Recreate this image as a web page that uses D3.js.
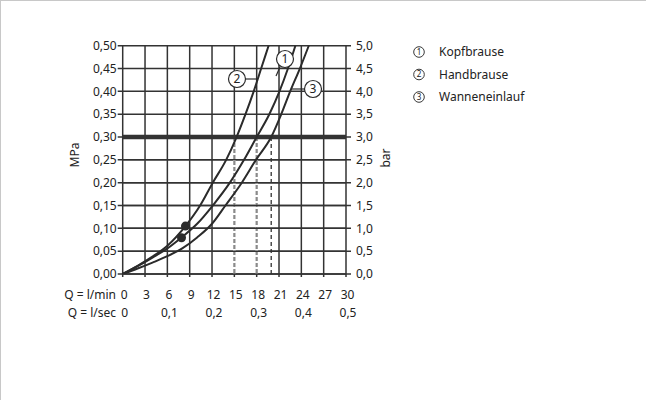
<!DOCTYPE html>
<html>
<head>
<meta charset="utf-8">
<script src="https://cdn.jsdelivr.net/npm/d3@7"></script>
<style>
  html,body{margin:0;padding:0;background:#fff;}
  svg{display:block;}
  text{font-family:"Noto Sans",sans-serif;fill:#222;}
</style>
</head>
<body>
<svg id="chart" width="646" height="400"></svg>
<script>
// ---- data ----
const xTicksLmin = [0,3,6,9,12,15,18,21,24,27,30];
const xTicksLsec = [[0,"0"],[6,"0,1"],[12,"0,2"],[18,"0,3"],[24,"0,4"],[30,"0,5"]];
const yTicksMPa = [0,0.05,0.10,0.15,0.20,0.25,0.30,0.35,0.40,0.45,0.50];
const yTicksBar = [0,0.5,1.0,1.5,2.0,2.5,3.0,3.5,4.0,4.5,5.0];
const seriesNames = ["Kopfbrause","Handbrause","Wanneneinlauf"];
// flow rate in l/min, pressure in MPa
const kopfQ = [0,2,4,6,7.9,10.0,12.1,14.4,16.3,18.0,19.7,21.06,22.2,23.2];
const kopfP = [0,0.017,0.036,0.056,0.080,0.110,0.150,0.200,0.250,0.300,0.350,0.400,0.450,0.500];
const handQ = [0,2,4,6,8.43,10.4,12.1,13.9,15.3,16.5,17.6,18.6,19.6];
const handP = [0,0.018,0.038,0.062,0.105,0.150,0.200,0.250,0.300,0.350,0.400,0.450,0.500];
const wanneQ = [0,2,4,6,8,10,12,13.8,16.0,17.9,19.95,21.3,22.5,23.8,25.0];
const wanneP = [0,0.012,0.025,0.039,0.056,0.080,0.110,0.150,0.200,0.250,0.300,0.350,0.400,0.450,0.500];
const refPressure = 0.30;
const dashFlows = [15,18,19.95];
const dotPoints = [[8.43,0.105],[7.9,0.0795]];

// ---- drawing ----
const svg = d3.select("#chart");
const x = d3.scaleLinear().domain([0,30]).range([122.7,346]);
const y = d3.scaleLinear().domain([0,0.5]).range([274,45.7]);
const yBar = d3.scaleLinear().domain([0,5]).range([274,45.7]);
const fmt = d => d.toFixed(2).replace(".",",");
const fmt1 = d => d.toFixed(1).replace(".",",");

// frame
svg.append("line").attr("x1",0.5).attr("x2",0.5).attr("y1",0).attr("y2",400).attr("stroke","#c8c8c8");
svg.append("line").attr("x1",0).attr("x2",646).attr("y1",0.5).attr("y2",0.5).attr("stroke","#c8c8c8");

const gridColor = "#333";
const gw = 1.5;
// vertical grid
svg.append("g").selectAll("line").data(xTicksLmin).join("line")
  .attr("x1",d=>x(d)).attr("x2",d=>x(d)).attr("y1",y(0.5)).attr("y2",y(0)+3)
  .attr("stroke",gridColor).attr("stroke-width",gw);
// horizontal grid
svg.append("g").selectAll("line").data(yTicksMPa).join("line")
  .attr("x1",x(0)-5).attr("x2",x(30)+5).attr("y1",d=>y(d)).attr("y2",d=>y(d))
  .attr("stroke",gridColor).attr("stroke-width",gw);

// dashed drop lines
dashFlows.forEach((q,i)=>{
  if(i<2){
    svg.append("line").attr("x1",x(q)).attr("x2",x(q)).attr("y1",y(refPressure)).attr("y2",y(0))
      .attr("stroke","#fff").attr("stroke-width",2.8);
    svg.append("line").attr("x1",x(q)).attr("x2",x(q)).attr("y1",y(refPressure)).attr("y2",y(0))
      .attr("stroke","#8a8a8a").attr("stroke-width",2.2).attr("stroke-dasharray","4,2");
  } else {
    svg.append("line").attr("x1",x(q)).attr("x2",x(q)).attr("y1",y(refPressure)).attr("y2",y(0))
      .attr("stroke","#222").attr("stroke-width",1.2).attr("stroke-dasharray","4,3");
  }
});
// redraw horizontals over dashes
svg.append("g").selectAll("line").data(yTicksMPa.filter(d=>d<0.3)).join("line")
  .attr("x1",x(0)).attr("x2",x(30)).attr("y1",d=>y(d)).attr("y2",d=>y(d))
  .attr("stroke",gridColor).attr("stroke-width",gw);

// heavy reference line
svg.append("line").attr("x1",x(0)).attr("x2",x(30)).attr("y1",y(refPressure)).attr("y2",y(refPressure))
  .attr("stroke","#333").attr("stroke-width",4.5);

// left axis labels
svg.append("g").selectAll("text").data(yTicksMPa).join("text")
  .attr("x",x(0)-6).attr("y",d=>y(d)).attr("dy","0.35em").attr("text-anchor","end")
  .attr("font-size",12).text(fmt);
// right axis labels
svg.append("g").selectAll("text").data(yTicksBar).join("text")
  .attr("x",x(30)+10).attr("y",d=>yBar(d)).attr("dy","0.35em").attr("text-anchor","start")
  .attr("font-size",12).text(fmt1);

svg.append("text").attr("transform","translate(79,155) rotate(-90)").attr("text-anchor","middle")
  .attr("font-size",12).text("MPa");
svg.append("text").attr("transform","translate(390,158) rotate(-90)").attr("text-anchor","middle")
  .attr("font-size",12).text("bar");

// bottom labels
svg.append("text").attr("x",116).attr("y",299).attr("text-anchor","end").attr("font-size",12).text("Q = l/min");
svg.append("text").attr("x",116).attr("y",317).attr("text-anchor","end").attr("font-size",12).text("Q = l/sec");
svg.append("g").selectAll("text").data(xTicksLmin).join("text")
  .attr("x",d=>x(d)+1.5).attr("y",299).attr("text-anchor","middle").attr("font-size",12).text(d=>d);
svg.append("g").selectAll("text").data(xTicksLsec).join("text")
  .attr("x",d=>x(d[0])+2).attr("y",317).attr("text-anchor","middle").attr("font-size",12).text(d=>d[1]);

// curves
const line = d3.line().x(d=>x(d[0])).y(d=>y(d[1])).curve(d3.curveMonotoneX);
const series = [
  d3.zip(kopfQ,kopfP), d3.zip(handQ,handP), d3.zip(wanneQ,wanneP)
];
svg.append("clipPath").attr("id","pc").append("rect")
  .attr("x",x(0)).attr("y",y(0.5)).attr("width",x(30)-x(0)).attr("height",y(0)-y(0.5));
svg.append("g").attr("clip-path","url(#pc)").selectAll("path").data(series).join("path")
  .attr("d",line).attr("fill","none").attr("stroke","#2b2b2b").attr("stroke-width",2);

// dots
svg.append("g").selectAll("circle").data(dotPoints).join("circle")
  .attr("cx",d=>x(d[0])).attr("cy",d=>y(d[1])).attr("r",4.5).attr("fill","#2b2b2b");

// curve callouts
function callout(cx,cy,num,lx1,ly1,lx2,ly2){
  svg.append("line").attr("x1",lx1).attr("y1",ly1).attr("x2",lx2).attr("y2",ly2)
    .attr("stroke","#2b2b2b").attr("stroke-width",1.2);
  svg.append("circle").attr("cx",cx).attr("cy",cy).attr("r",8.5).attr("fill","#fff")
    .attr("stroke","#2b2b2b").attr("stroke-width",1.2);
  svg.append("text").attr("x",cx).attr("y",cy).attr("dy","0.36em").attr("text-anchor","middle")
    .attr("font-size",12).text(num);
}
callout(285,59,"1",280,67,276,76);
callout(237,79,"2",245.5,79,258,79);
callout(313,89,"3",304.5,89,291,89);

// legend
seriesNames.forEach((n,i)=>{
  const cy = 52 + i*22.5;
  svg.append("circle").attr("cx",419).attr("cy",cy).attr("r",5.3).attr("fill","none")
    .attr("stroke","#222").attr("stroke-width",0.9);
  svg.append("text").attr("x",419).attr("y",cy).attr("dy","0.36em").attr("text-anchor","middle")
    .attr("font-size",8).text(i+1);
  svg.append("text").attr("x",439).attr("y",cy).attr("dy","0.36em").attr("font-size",12).text(n);
});
</script>
</body>
</html>
